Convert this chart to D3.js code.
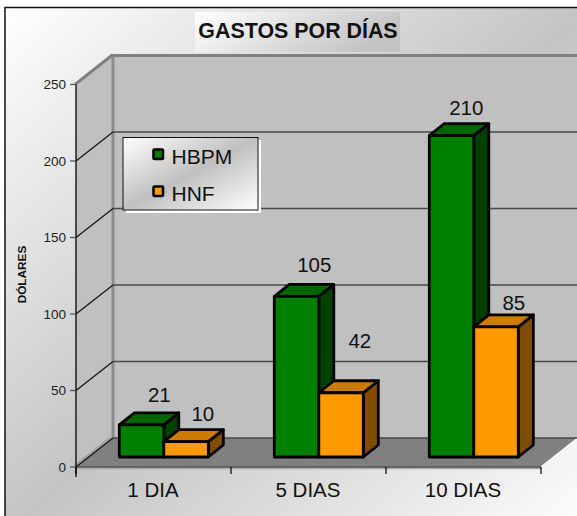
<!DOCTYPE html>
<html><head><meta charset="utf-8">
<script src="https://cdn.jsdelivr.net/npm/d3@7"></script>
<style>html,body{margin:0;padding:0;background:#fff}svg{display:block}text{font-family:"Liberation Sans",Arial,sans-serif;fill:#111}</style>
</head><body><div id="c"></div>
<script>
const categories = ["1 DIA", "5 DIAS", "10 DIAS"];
const seriesNames = ["HBPM", "HNF"];
const hbpm = [21, 105, 210];
const hnf = [10, 42, 85];
const yTicks = [0, 50, 100, 150, 200, 250];
const titleText = "GASTOS POR DÍAS";
const yTitle = "DÓLARES";
// label placement tweaks, as hand-moved in the original (px)
const labelShift = [[[0,-2],[-1,0]],[[0,-3],[1,-24]],[[-3,0],[0,4]]];

const W = 577, H = 516;
const svg = d3.select("#c").append("svg").attr("width", W).attr("height", H);
const defs = svg.append("defs");
function grad(id, stops){
  const g = defs.append("linearGradient").attr("id", id).attr("x1",0).attr("y1",0).attr("x2",1).attr("y2",1);
  stops.forEach(s => g.append("stop").attr("offset", s[0]).attr("stop-color", s[1]));
}
grad("bg", [[0,"#ffffff"],[0.5,"#c4c4c4"],[1,"#ffffff"]]);
grad("lg", [[0,"#ffffff"],[0.5,"#c0c0c0"],[1,"#ffffff"]]);
const tg = defs.append("linearGradient").attr("id","tg").attr("x1",0).attr("y1",0).attr("x2",1).attr("y2",0.3);
[[0,"#ffffff"],[1,"#c4c4c4"]].forEach(s => tg.append("stop").attr("offset", s[0]).attr("stop-color", s[1]));

// frame
svg.append("rect").attr("x",5).attr("y",7.5).attr("width",W+10).attr("height",H+10)
  .attr("fill","url(#bg)").attr("stroke","#111").attr("stroke-width",1.5);

// projection
const dx = 37, dy = -29;
const left = 76, floorW = 465;
const x = d3.scaleBand().domain(categories).range([left, left + floorW]).paddingInner(0).paddingOuter(0);
const y = d3.scaleLinear().domain([0, 250]).range([467, 84.5]);
const y0 = y(0), yT = y(250);
const barDepth = 15, barRise = 12;

const g = svg.append("g");
const poly = (pts, fill) => g.append("polygon").attr("points", pts.map(p=>p.join(",")).join(" ")).attr("fill", fill);

// walls
poly([[left+dx,yT+dy],[W+2,yT+dy],[W+2,y0+dy],[left+dx,y0+dy]], "#c0c0c0");
poly([[left,yT],[left+dx,yT+dy],[left+dx,y0+dy],[left,y0]], "#c0c0c0");
poly([[left,y0],[left+floorW,y0],[left+floorW+dx,y0+dy],[left+dx,y0+dy]], "#808080");

// wall edges
const ln = (x1,y1,x2,y2,c,w) => g.append("line").attr("x1",x1).attr("y1",y1).attr("x2",x2).attr("y2",y2).attr("stroke",c).attr("stroke-width",w);
ln(left+dx,yT+dy,W,yT+dy,"#808080",3);
ln(left+dx,yT+dy,left+dx,y0+dy,"#8c8c8c",3);
ln(left-1,yT,left+dx,yT+dy-1,"#808080",3);
ln(left-1,y0-1,left+dx-2,y0+dy,"#a0a0a0",3);
ln(left,y0+1,left+floorW,y0+1,"#a8a8a8",2.5);
ln(left+floorW,y0,left+floorW+dx,y0+dy,"#ffffff",1.5);

// gridlines
yTicks.forEach(t => {
  if (t > 0 && t < 250) {
    ln(left,y(t),left+dx,y(t)+dy,"#111",1.2);
    ln(left+dx,y(t)+dy,W,y(t)+dy,"#484848",1.5);
  }
});
ln(left+dx,y0+dy,W,y0+dy,"#484848",1.4);
ln(left,y0,left+dx,y0+dy,"#111",1.2);
ln(left,y0,left+floorW,y0,"#333",1.1);

// axes
ln(left,yT,left,y0+10,"#000",1.3);
yTicks.forEach(t => {
  ln(left-6,y(t),left,y(t),"#555",1.3);
  g.append("text").attr("x",66).attr("y",y(t)+4.5).attr("text-anchor","end").attr("font-size",13.5).style("fill","#222").text(t);
});
categories.forEach(c => {
  ln(x(c),y0,x(c),y0+7,"#000",1.2);
  g.append("text").attr("x",x(c)+x.bandwidth()/2-0.5).attr("y",497).attr("text-anchor","middle").attr("font-size",20.5).text(c);
});
ln(left+floorW,y0,left+floorW,y0+7,"#000",1.2);

// bars
const bw = 44.5, inset = 43.3;
const base = y0 - 10;
const barY = d3.scaleLinear().domain([0,250]).range([base, base - (y0 - yT)]);
const styles = [{f:"#008000",t:"#006600",s:"#004000"},{f:"#ff9900",t:"#cc7a00",s:"#804c00"}];
const series = [hbpm, hnf];
const barsG = svg.append("g").attr("stroke","#000").attr("stroke-width",2.8).attr("stroke-linejoin","round");
categories.forEach((c,i) => {
  series.forEach((vals,k) => {
    const x0 = x(c) + inset + k*bw, x1 = x0 + bw, yt = barY(vals[i]);
    const p = (pts, fill) => barsG.append("polygon").attr("points", pts.map(q=>q.join(",")).join(" ")).attr("fill", fill);
    p([[x1,base],[x1+barDepth,base-barRise],[x1+barDepth,yt-barRise],[x1,yt]], styles[k].s);
    p([[x0,yt],[x0+barDepth,yt-barRise],[x1+barDepth,yt-barRise],[x1,yt]], styles[k].t);
    p([[x0,base],[x1,base],[x1,yt],[x0,yt]], styles[k].f);
  });
});
categories.forEach((c,i) => {
  series.forEach((vals,k) => {
    const x0 = x(c) + inset + k*bw, yt = barY(vals[i]), s = labelShift[i][k];
    svg.append("text").attr("x",x0+40+s[0]).attr("y",yt-21+s[1]).attr("text-anchor","middle").attr("font-size",20.5).text(vals[i]);
  });
});

// y title
svg.append("text").attr("transform","translate(26,274.5) rotate(-90)").attr("text-anchor","middle")
  .attr("font-size",11.8).attr("font-weight","bold").text(yTitle);

// title
svg.append("rect").attr("x",195).attr("y",12).attr("width",205).attr("height",40).attr("fill","url(#tg)");
svg.append("text").attr("x",298).attr("y",38).attr("text-anchor","middle").attr("font-size",21.4).attr("font-weight","bold").text(titleText);

// legend
const lg = svg.append("g");
lg.append("rect").attr("x",126).attr("y",140).attr("width",135).attr("height",73).attr("fill","#fff");
lg.append("rect").attr("x",123).attr("y",137.5).attr("width",135).attr("height",72.5).attr("fill","url(#lg)").attr("stroke","#111").attr("stroke-width",1);
const legendY = d3.scalePoint().domain(seriesNames).range([155,192]);
seriesNames.forEach((n,k) => {
  lg.append("rect").attr("x",153.5).attr("y",legendY(n)-5.5).attr("width",9.5).attr("height",9.5).attr("rx",1)
    .attr("fill",styles[k].f).attr("stroke","#000").attr("stroke-width",2.6);
  lg.append("text").attr("x",171.5).attr("y",legendY(n)+9).attr("font-size",21).text(n);
});
</script></body></html>
